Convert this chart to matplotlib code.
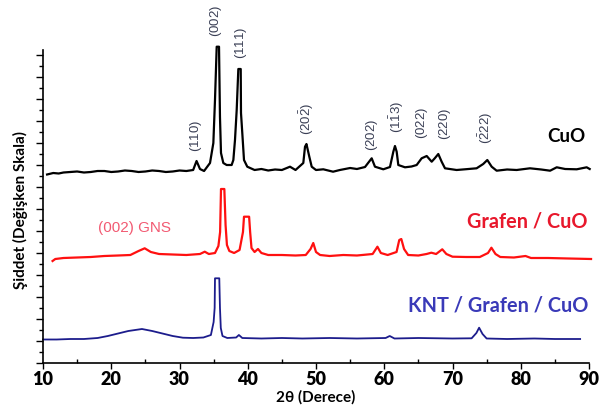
import matplotlib
matplotlib.use("Agg")
import matplotlib.pyplot as plt
from matplotlib.ticker import MultipleLocator

plt.rcParams['mathtext.fontset'] = 'custom'
plt.rcParams['mathtext.rm'] = 'Liberation Sans'
plt.rcParams['mathtext.it'] = 'Liberation Sans:italic'

# ---- data (2theta in degrees, intensity in arbitrary stacked units) ----
cuo_x = [10.6, 11.5, 12.3, 13, 14, 15, 16, 17, 18, 19, 20, 21, 22, 23, 24, 25, 26, 27, 28, 29, 30, 31,
         32.0, 32.5, 33.0, 33.6,
         34.47, 34.96, 35.2, 35.45, 35.79, 35.93, 36.08, 36.42, 36.91, 37.64,
         37.89, 38.13, 38.38, 38.62, 38.97, 39.01, 39.2, 39.45, 39.93, 41, 42, 43, 44, 45,
         46.19, 47, 48.14, 48.39, 48.6, 49.02, 49.37, 50.0, 51.07, 52.5, 53.5, 55, 56, 57.18,
         58.16, 58.64, 59.86, 60.84, 61.33, 61.57, 61.82, 62.06, 63.04, 64.0, 64.75,
         65.48, 66.22, 66.95, 67.4, 67.92, 68.41, 68.9, 70.6, 72, 73.53, 74.5, 75.1,
         75.74, 76.47, 78, 79.4, 81.35, 83, 84.3, 85.27, 86.5, 88.2, 89.66, 90.1]
cuo_y = [188.5, 190, 189.5, 190.5, 191, 191.5, 190.5, 191, 192, 192, 191, 191.5, 192.5, 192, 191, 191.5,
         192.5, 192, 191, 191.5, 192.5, 192,
         193, 202, 194, 192,
         200, 220, 263, 316.3, 316.3, 246, 210, 200, 198, 198,
         203, 223, 253, 294, 294, 250, 230, 203, 196.3, 193, 194, 192.5, 193.5, 193,
         196.3, 193, 200, 216.3, 219, 206.3, 196.3, 193, 193.7, 191.3, 193, 195, 194, 196,
         204.7, 196.3, 193.7, 196, 211.3, 217, 211.3, 198, 195.7, 196.5, 198,
         204.7, 207, 201.3, 204.7, 209, 201.3, 194.7, 193, 193.8, 194.7, 199, 203,
         196.3, 192.3, 193.5, 193, 194.7, 193.5, 192.3, 195.7, 194, 193.7, 195.7, 194]

gr_x = [11.4, 11.8, 13, 15, 17, 19, 21, 22.8, 24.0, 24.9, 25.8, 27, 29, 31, 33.0, 33.7,
        34.3, 35.2, 35.7, 35.95, 36.08, 36.57, 36.75, 36.95, 37.3, 38.0, 38.8, 39.3,
        39.45, 40.2, 40.35, 40.55, 41.0, 41.5, 42.0, 43, 45, 47, 48.5, 49.2, 49.6,
        50.0, 50.6, 52, 54, 56, 58.3, 59.0, 59.5, 60.5, 61.8, 62.2, 62.5, 62.9, 63.5,
        65, 66.2, 66.9, 67.6, 68.5, 69.1, 70, 72, 74, 75.2, 75.7, 76.3, 77, 79, 80.7,
        81.5, 84, 87, 90.3]
gr_y = [102, 104, 105, 105.5, 106, 107, 107.5, 108, 112, 114.7, 111, 109, 108.5, 108, 109, 111.3,
        109, 110, 117, 131, 174, 174, 138, 118, 112, 110, 113, 131,
        146.3, 146.3, 131, 115, 111, 114, 110, 108, 108, 107.5, 108, 114, 120,
        111, 108, 107, 108, 107.5, 109, 116.3, 110, 108, 111, 123, 124, 114, 108,
        107.5, 109, 110.3, 109, 113.7, 109, 106.3, 106, 106, 110, 115.3, 109, 106, 105.5, 107,
        105, 105, 104.5, 104]

kn_x = [10.0, 12, 14, 16, 18.0, 19.5, 21, 22.5, 24.5, 26, 27.5, 29, 30.5, 32, 33.5,
        34.6, 35.0, 35.15, 35.2, 35.83, 35.93, 36.05, 36.3, 37, 38.3, 38.7, 39.2, 42,
        45, 48, 52, 56, 60.2, 60.8, 61.5, 65, 70, 72.8, 73.5, 73.9, 74.4, 75, 78, 82,
        85, 88.7]
kn_y = [23.5, 23.5, 24, 24, 25, 27, 29.5, 32, 34, 32, 29.5, 27, 25.3, 25, 25.5,
        28, 41, 55, 84.7, 84.7, 55, 35, 27, 25, 25.5, 28, 25, 24.5,
        25, 24.5, 25, 24.5, 25, 27, 24.5, 25, 24.5, 24.7, 30, 35.3, 29, 24.5, 24, 24.5,
        24, 24]

hkl_labels = ['$(110)$', '$(002)$', '$(111)$', r'$(20\bar{2})$', '$(202)$',
              r'$(1\bar{1}3)$', '$(022)$', '$(220)$', r'$(\bar{2}22)$']
hkl_x = [32.4, 35.4, 39.0, 48.7, 58.2, 61.9, 65.5, 68.9, 74.9]
hkl_y = [227, 342, 320, 244, 228, 246, 240, 239, 235]

series_names = ['CuO', 'Grafen / CuO', 'KNT / Grafen / CuO']

# ---- figure ----
fig = plt.figure(figsize=(6.03, 4.12), dpi=100)
ax = fig.add_axes([43/603, 49/412, 546/603, 313/412])

ax.plot(cuo_x, cuo_y, color='black', lw=1.6, clip_on=False)
ax.plot(gr_x, gr_y, color='#ff1010', lw=1.6, clip_on=False)
ax.plot(kn_x, kn_y, color='#1c1c8c', lw=1.3, clip_on=False)

for lab, xx, yy in zip(hkl_labels, hkl_x, hkl_y):
    ax.text(xx, yy, lab, rotation=90, ha='center', va='center', fontsize=9.5,
            color='#3a3f55')

ax.text(89.5, 226, series_names[0], ha='right', va='center', fontsize=13.5,
        fontweight='bold', family='Lato', color='black')
ax.text(89.8, 141, series_names[1], ha='right', va='center', fontsize=14.3,
        fontweight='bold', family='Lato', color='#e8182c')
ax.text(89.9, 58, series_names[2], ha='right', va='center', fontsize=14.3,
        fontweight='bold', family='Lato', color='#3a3ab8')
ax.text(23.4, 135, '(002) GNS', ha='center', va='center', fontsize=11,
        family='Liberation Sans', color='#f25a72')

ax.set_xlim(10, 90)
ax.set_ylim(0, 313)
ax.spines['top'].set_visible(False)
ax.spines['right'].set_visible(False)
ax.spines['left'].set_linewidth(1.2)
ax.spines['bottom'].set_linewidth(1.2)

ax.xaxis.set_major_locator(MultipleLocator(10))
ax.xaxis.set_minor_locator(MultipleLocator(5))
ax.yaxis.set_major_locator(MultipleLocator(22))
ax.yaxis.set_minor_locator(MultipleLocator(11))
ax.set_yticklabels([])
ax.tick_params(axis='y', which='major', direction='out', length=5, width=1)
ax.tick_params(axis='y', which='minor', direction='out', length=3, width=1)
ax.tick_params(axis='x', which='major', direction='out', length=4, width=1, pad=2)
ax.tick_params(axis='x', which='minor', direction='in', length=3, width=1)
for t in ax.get_xticklabels():
    t.set_fontweight('heavy')
    t.set_family('Lato')
    t.set_fontsize(13)

ax.set_xlabel('2θ (Derece)', fontsize=11, fontweight='bold', family='Lato', labelpad=1)
ax.set_ylabel('Şiddet (Değişken Skala)', fontsize=11, fontweight='bold', family='Lato')
ax.yaxis.set_label_coords(-0.027, 0.49)

fig.savefig('out.png', dpi=100)
